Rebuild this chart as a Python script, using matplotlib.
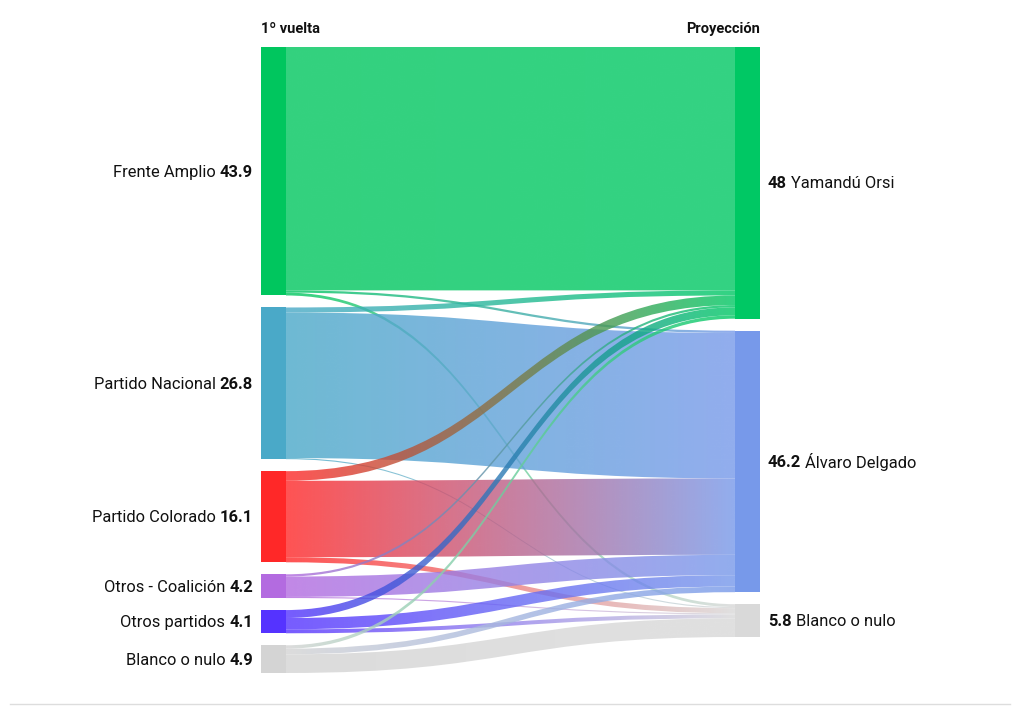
import numpy as np
import matplotlib
matplotlib.use("Agg")
import matplotlib.pyplot as plt
from matplotlib.path import Path
from matplotlib.patches import PathPatch, Rectangle
from matplotlib.colors import to_rgb

plt.rcParams['font.family'] = ['Roboto', 'DejaVu Sans']

# first round (sources) and projected ballotage (targets)
sources = ['Frente Amplio', 'Partido Nacional', 'Partido Colorado',
           'Otros - Coalición', 'Otros partidos', 'Blanco o nulo']
targets = ['Yamandú Orsi', 'Álvaro Delgado', 'Blanco o nulo']

# vote transfer, one list per target, in source order
to_orsi = [43.0, 0.9, 1.7, 0.4, 1.4, 0.6]
to_delgado = [0.4, 25.7, 13.5, 3.6, 2.0, 1.0]
to_blanco = [0.5, 0.2, 0.9, 0.2, 0.7, 3.3]

src_colors = ['#00c65e', '#4aa9c8', '#ff2828', '#b36be0', '#5533ff', '#d4d4d4']
tgt_colors = ['#00c864', '#7799ea', '#d9d9d9']

W, H = 1020, 715
fig = plt.figure(figsize=(W / 100, H / 100), dpi=100)
ax = fig.add_axes([0, 0, 1, 1])

flows = np.array([to_orsi, to_delgado, to_blanco]).T  # (source, target)
src_tot = flows.sum(axis=1)
tgt_tot = flows.sum(axis=0)

top, bottom, gap = 47, 673, 12
scale = (bottom - top - gap * (len(sources) - 1)) / src_tot.sum()
x_left, x_right, node_w = 261, 735, 25
link_alpha = 0.8


def stack(totals):
    ys, y = [], top
    for t in totals:
        ys.append(y)
        y += t * scale + gap
    return ys


src_y = stack(src_tot)
tgt_y = stack(tgt_tot)


def band(x0, x1, a0, b0, a1, b1):
    xm = (x0 + x1) / 2
    verts = [(x0, a0), (xm, a0), (xm, a1), (x1, a1),
             (x1, b1), (xm, b1), (xm, b0), (x0, b0), (x0, a0)]
    codes = [Path.MOVETO, Path.CURVE4, Path.CURVE4, Path.CURVE4,
             Path.LINETO, Path.CURVE4, Path.CURVE4, Path.CURVE4, Path.CLOSEPOLY]
    return Path(verts, codes)


# links: ordered by target at the source, by source at the target
src_off = list(src_y)
tgt_off = list(tgt_y)
x0, x1 = x_left + node_w, x_right
n = 256
t = np.linspace(0, 1, n)
for i in range(len(sources)):
    for j in range(len(targets)):
        v = flows[i, j]
        if v <= 0:
            continue
        h = v * scale
        a0, a1 = src_off[i], tgt_off[j]
        src_off[i] += h
        tgt_off[j] += h
        path = band(x0, x1, a0, a0 + h, a1, a1 + h)
        patch = PathPatch(path, facecolor='none', edgecolor='none')
        ax.add_patch(patch)
        c0, c1 = np.array(to_rgb(src_colors[i])), np.array(to_rgb(tgt_colors[j]))
        rgb = (1 - t)[:, None] * c0 + t[:, None] * c1
        img = np.zeros((2, n, 4))
        img[:, :, :3] = rgb
        img[:, :, 3] = link_alpha
        ymin, ymax = min(a0, a1) - 1, max(a0, a1) + h + 1
        im = ax.imshow(img, extent=(x0, x1, ymax, ymin), aspect='auto',
                       interpolation='bilinear', zorder=2)
        im.set_clip_path(patch)

# nodes
for i, name in enumerate(sources):
    ax.add_patch(Rectangle((x_left, src_y[i]), node_w, src_tot[i] * scale,
                           color=src_colors[i], zorder=3, lw=0))
for j, name in enumerate(targets):
    ax.add_patch(Rectangle((x_right, tgt_y[j]), node_w, tgt_tot[j] * scale,
                           color=tgt_colors[j], zorder=3, lw=0))

ax.set_xlim(0, W)
ax.set_ylim(H, 0)
ax.axis('off')

renderer = fig.canvas.get_renderer()
fs = 11.9
txt_color = '#111111'

# left labels: "Name **value**"
for i, name in enumerate(sources):
    yc = src_y[i] + src_tot[i] * scale / 2 + 1
    val = f"{round(src_tot[i], 1):g}"
    tv = ax.text(253, yc, val, ha='right', va='center', fontsize=fs,
                 fontweight='bold', color=txt_color)
    wv = tv.get_window_extent(renderer).width
    ax.text(253 - wv - 4, yc, name, ha='right', va='center', fontsize=fs,
            color=txt_color)

# right labels: "**value** Name"
for j, name in enumerate(targets):
    yc = tgt_y[j] + tgt_tot[j] * scale / 2 + 1
    val = f"{round(tgt_tot[j], 1):g}"
    tv = ax.text(768, yc, val, ha='left', va='center', fontsize=fs,
                 fontweight='bold', color=txt_color)
    wv = tv.get_window_extent(renderer).width
    ax.text(768 + wv + 4, yc, name, ha='left', va='center', fontsize=fs,
            color=txt_color)

# column headers
ax.text(x_left, 29, '1º vuelta', ha='left', va='center', fontsize=10.5,
        fontweight='bold', color=txt_color)
ax.text(x_right + node_w, 29, 'Proyección', ha='right', va='center',
        fontsize=10.5, fontweight='bold', color=txt_color)

# footer rule
ax.plot([10, 1010], [704, 704], color='#dddddd', lw=1, zorder=1)

fig.savefig('out.png', dpi=100)
